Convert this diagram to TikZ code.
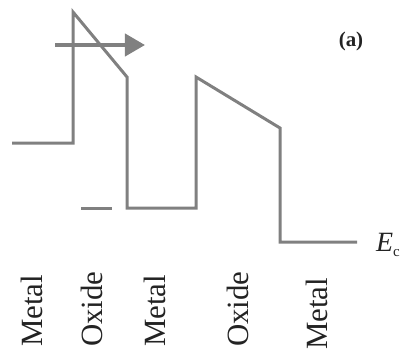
\documentclass[tikz,border=0pt]{standalone}
\usepackage{fontspec}
\setmainfont{Liberation Serif}
\usetikzlibrary{arrows.meta}
\definecolor{bandgray}{RGB}{128,128,128}
\definecolor{labelink}{RGB}{35,35,35}
\begin{document}
\begin{tikzpicture}[x=1bp,y=-1bp,
  band/.style={draw=bandgray, line width=3bp, line join=miter},
  layer/.style={rotate=90, anchor=base west, text=labelink, inner sep=0pt,
                font=\fontsize{31}{31}\selectfont},
  note/.style={text=labelink, inner sep=0pt}]
\useasboundingbox (0,0) rectangle (409,355);

% conduction band edge across metal / oxide / metal / oxide / metal
\coordinate (m1l) at (12,143);
\coordinate (m1r) at (73,143);
\coordinate (o1t) at (73,12);
\coordinate (o1b) at (127,77);
\coordinate (m2l) at (127,208);
\coordinate (m2r) at (196,208);
\coordinate (o2t) at (196,77);
\coordinate (o2b) at (280,128);
\coordinate (m3l) at (280,242);
\coordinate (m3r) at (357,242);
\draw[band] (m1l) -- (m1r) -- (o1t) -- (o1b) -- (m2l) -- (m2r)
  -- (o2t) -- (o2b) -- (m3l) -- (m3r);

% short level mark
\coordinate (dl) at (81,208);
\coordinate (dr) at (112,208);
\draw[band] (dl) -- (dr);

% tunnelling arrow
\coordinate (al) at (55,45);
\coordinate (ar) at (145,45);
\draw[draw=bandgray, line width=4bp, -{Triangle[length=20bp,width=22bp]}] (al) -- (ar);

% labels
\node[note, font=\fontsize{21}{21}\selectfont\bfseries] (panel) at (351,41) {(a)};
\node[note, anchor=west, font=\fontsize{28}{28}\selectfont] (ec) at (376,245)
  {\textit{E}\raisebox{-0.2em}{\fontsize{15}{15}\selectfont c}};

\node[layer] (lm1) at (42,347) {Metal};
\node[layer] (lo1) at (102,347) {Oxide};
\node[layer] (lm2) at (165,347) {Metal};
\node[layer] (lo2) at (248,347) {Oxide};
\node[layer] (lm3) at (327,350) {Metal};
\end{tikzpicture}
\end{document}
